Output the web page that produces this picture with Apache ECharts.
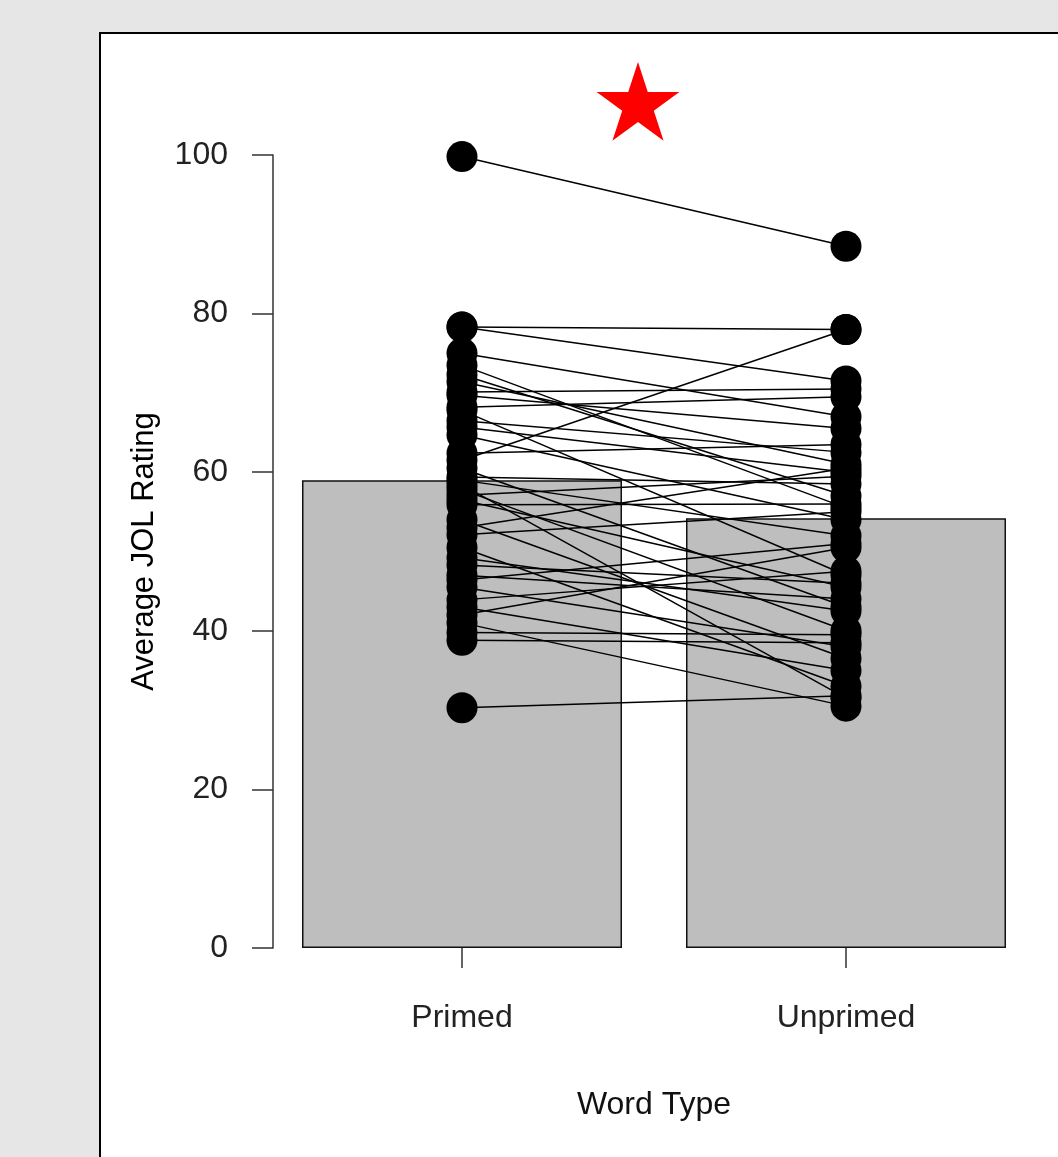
<!DOCTYPE html>
<html>
<head>
<meta charset="utf-8">
<script src="https://cdn.jsdelivr.net/npm/echarts@6/dist/echarts.min.js"></script>
<style>
  html, body { margin: 0; padding: 0; background: #e6e6e6; }
  #chart { width: 1058px; height: 1157px; }
</style>
</head>
<body>
<div id="chart"></div>
<script>
// word types on the x axis
const categories = ["Primed", "Unprimed"];
// bar heights (group means)
const barMeans = [59.0, 54.2];
// one value per participant, same order in both arrays
const primed = [
  99.8, 78.3, 78.3, 75.0, 72.3, 71.4, 70.1, 69.7, 68.2, 67.8,
  65.7, 64.7, 62.4, 61.5, 59.4, 59.0, 58.4, 57.8, 57.1, 56.5,
  55.9, 54.0, 52.1, 49.2, 48.3, 46.4, 45.5, 43.9, 43.0, 42.0,
  39.8, 38.8, 30.3, 60.5, 50.5, 66.5, 73.5, 41.0, 53.0, 47.0
];
const unprimed = [
  88.5, 78.0, 71.5, 67.0, 57.0, 61.0, 70.5, 65.5, 69.5, 47.0,
  60.0, 54.0, 63.5, 78.0, 58.5, 52.0, 31.5, 40.0, 59.5, 45.5,
  56.0, 36.5, 55.0, 42.5, 46.0, 51.0, 38.0, 47.5, 35.0, 50.5,
  39.5, 38.5, 31.8, 43.0, 33.0, 62.5, 55.5, 30.5, 60.5, 44.0
];
const yTicks = [0, 20, 40, 60, 80, 100];

const font = "'Liberation Sans', Arial, sans-serif";

let series = [];
series.push({
  type: "bar",
  data: barMeans,
  barWidth: 320,
  itemStyle: { color: "#bebebe", borderColor: "#111", borderWidth: 1.5 },
  silent: true,
  z: 1
});
// one line per participant
for (let i = 0; i < primed.length; i++) {
  series.push({
    type: "line",
    data: [primed[i], unprimed[i]],
    symbol: "none",
    lineStyle: { color: "#000", width: 1.5 },
    silent: true,
    z: 3
  });
}
series.push({
  type: "scatter",
  data: primed.map(v => [0, v]).concat(unprimed.map(v => [1, v])),
  symbolSize: 31,
  itemStyle: { color: "#000", opacity: 1 },
  silent: true,
  z: 5
});

// red star above the bars
let starPts = [];
for (let k = 0; k < 10; k++) {
  let r = k % 2 === 0 ? 43.5 : 43.5 * 0.382;
  let a = -Math.PI / 2 + k * Math.PI / 5;
  starPts.push([638 + r * Math.cos(a), 105.5 + r * Math.sin(a)]);
}

let option = {
  backgroundColor: "#e6e6e6",
  animation: false,
  graphic: [
    {
      type: "rect",
      z: -10,
      shape: { x: 100, y: 33, width: 1000, height: 1200 },
      style: { fill: "#fff", stroke: "#000", lineWidth: 2 }
    },
    {
      type: "polygon",
      z: 10,
      shape: { points: starPts },
      style: { fill: "#ff0000" }
    }
  ],
  grid: { left: 270, width: 768, top: 155, bottom: 209 },
  xAxis: {
    type: "category",
    data: categories,
    name: "Word Type",
    nameLocation: "middle",
    nameGap: 141,
    nameTextStyle: { fontFamily: font, fontSize: 32, color: "#111" },
    axisLine: { show: false },
    axisTick: { show: true, alignWithLabel: true, length: 20, lineStyle: { color: "#333", width: 1.5 } },
    axisLabel: { margin: 54, fontFamily: font, fontSize: 32, color: "#222" },
    splitLine: { show: false }
  },
  yAxis: {
    type: "value",
    min: 0,
    max: 100,
    interval: 20,
    offset: -3,
    name: "Average JOL Rating",
    nameLocation: "middle",
    nameGap: 113,
    nameRotate: 90,
    nameTextStyle: { fontFamily: font, fontSize: 31, color: "#000" },
    axisLine: { show: true, lineStyle: { color: "#333", width: 1.5 } },
    axisTick: { show: true, inside: false, length: 21, lineStyle: { color: "#333", width: 1.5 } },
    axisLabel: {
      margin: 45,
      fontFamily: font,
      fontSize: 32,
      color: "#222",
      formatter: v => (yTicks.indexOf(v) >= 0 ? String(v) : "")
    },
    splitLine: { show: false }
  },
  series: series
};

let myChart = echarts.init(document.getElementById("chart"));
myChart.setOption(option);
</script>
</body>
</html>
